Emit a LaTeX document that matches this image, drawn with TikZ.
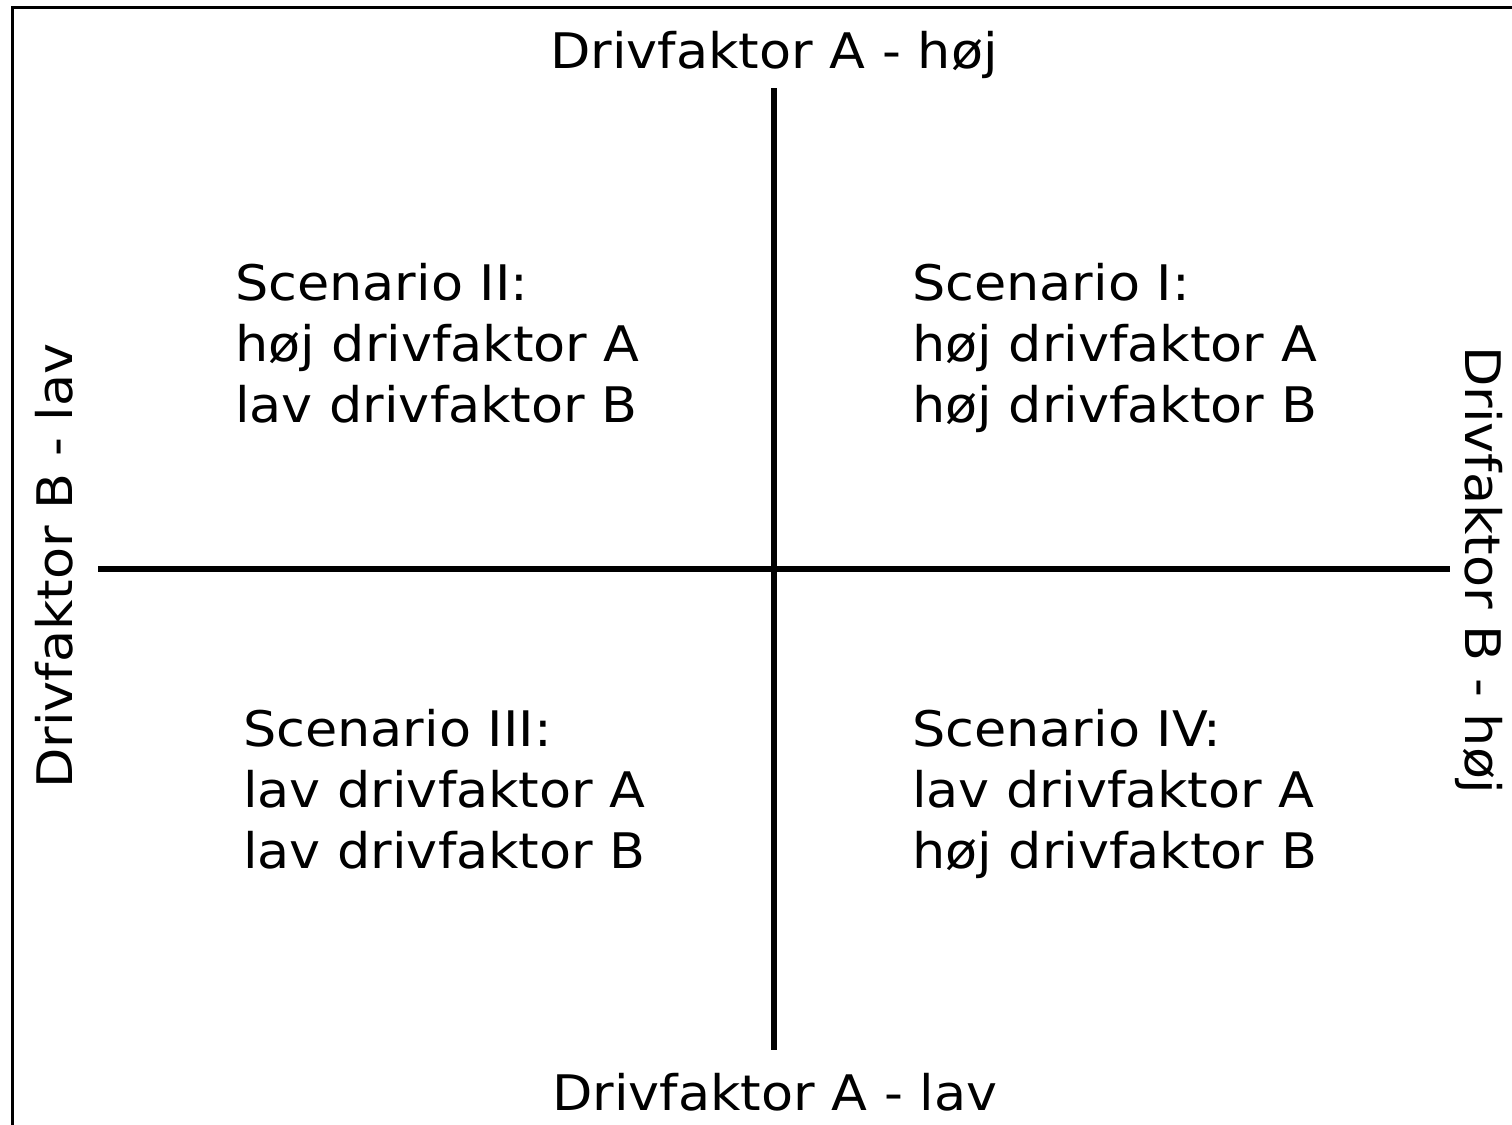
\documentclass[tikz,border=0pt]{standalone}
\usepackage{fontspec}
\setmainfont[FakeStretch=1.07]{DejaVu Sans}
\begin{document}
\begin{tikzpicture}[x=1pt,y=-1pt,
  lbl/.style={font=\fontsize{49}{61}\selectfont, inner sep=0pt},
  quad/.style={lbl, align=left, anchor=base west},
  axis/.style={line width=6pt},
  frame/.style={line width=3pt}]
\useasboundingbox (0,0) rectangle (1512,1124);
\clip (0,0) rectangle (1512,1124);
\draw[frame] (12.5,7.5) rectangle (1540,1150);
% axes
\coordinate (vtop) at (774,88);
\coordinate (vbot) at (774,1050);
\coordinate (hl) at (98,569);
\coordinate (hr) at (1450,569);
\draw[axis] (vtop) -- (vbot);
\draw[axis] (hl) -- (hr);
% axis labels
\node[lbl, anchor=base] (atop) at (774,68) {Drivfaktor A - høj};
\node[lbl, anchor=base] (abot) at (775,1110) {Drivfaktor A - lav};
\node[lbl, anchor=base, rotate=90] (bleft) at (72,566) {Drivfaktor B - lav};
\node[lbl, anchor=base, rotate=-90] (bright) at (1465,570) {Drivfaktor B - høj};
% quadrants (base anchor = last line baseline)
\node[quad] (q2) at (235,422) {Scenario II:\\høj drivfaktor A\\lav drivfaktor B};
\node[quad] (q1) at (912,422) {Scenario I:\\høj drivfaktor A\\høj drivfaktor B};
\node[quad] (q3) at (243,868) {Scenario III:\\lav drivfaktor A\\lav drivfaktor B};
\node[quad] (q4) at (912,868) {Scenario IV:\\lav drivfaktor A\\høj drivfaktor B};
\end{tikzpicture}
\end{document}
